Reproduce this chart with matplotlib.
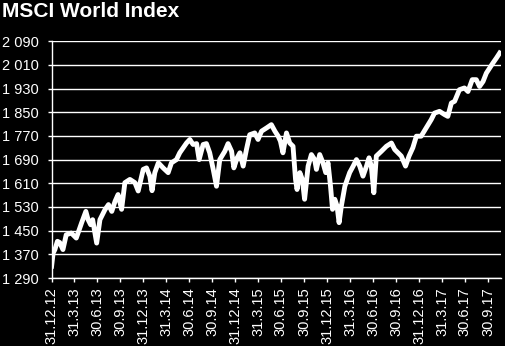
import matplotlib
matplotlib.use('Agg')
import matplotlib.pyplot as plt
import numpy as np
import pandas as pd

# index level, x as days after 31.12.2012
days = [0, 6, 13, 23, 32, 45, 58, 78, 98, 119, 136, 145, 155, 163, 179, 192, 212, 226, 239, 252,
        264, 278, 291, 311, 331, 344, 364, 377, 390, 399, 410, 424, 443, 463, 476, 496, 509, 523,
        536, 549, 562, 576, 586, 602, 615, 628, 642, 655, 668, 688, 701, 715, 724, 737, 748, 761,
        774, 787, 807, 820, 834, 854, 873, 887, 900, 909, 919, 933, 946, 959, 969, 975, 986, 996,
        1005, 1019, 1032, 1045, 1052, 1065, 1078, 1089, 1098, 1108, 1116, 1125, 1134, 1142, 1151,
        1165, 1184, 1198, 1211, 1224, 1237, 1251, 1261, 1270, 1280, 1290, 1310, 1330, 1350, 1363,
        1376, 1389, 1406, 1420, 1435, 1449, 1468, 1488, 1508, 1521, 1541, 1561, 1574, 1588, 1601,
        1620, 1640, 1654, 1671, 1687, 1700, 1714, 1727, 1740, 1753, 1767, 1780]
values = [1330, 1374, 1386, 1414, 1410, 1386, 1436, 1442, 1425, 1476, 1515, 1487, 1470, 1487, 1408,
          1487, 1521, 1538, 1515, 1549, 1572, 1522, 1612, 1623, 1612, 1584, 1657, 1662, 1634, 1585,
          1646, 1679, 1662, 1646, 1679, 1690, 1713, 1730, 1746, 1758, 1741, 1744, 1690, 1741, 1744,
          1713, 1657, 1600, 1690, 1718, 1744, 1718, 1662, 1696, 1713, 1668, 1724, 1774, 1780, 1758,
          1786, 1797, 1808, 1786, 1769, 1752, 1713, 1780, 1746, 1735, 1623, 1589, 1646, 1623, 1556,
          1668, 1707, 1690, 1657, 1707, 1679, 1646, 1679, 1600, 1522, 1556, 1533, 1477, 1533, 1600,
          1646, 1668, 1690, 1668, 1634, 1668, 1696, 1668, 1578, 1702, 1718, 1735, 1746, 1724, 1713,
          1702, 1668, 1702, 1730, 1769, 1769, 1797, 1825, 1847, 1853, 1842, 1836, 1881, 1887, 1926,
          1932, 1920, 1960, 1960, 1937, 1954, 1982, 1999, 2016, 2033, 2050]

y_ticks = list(range(1290, 2091, 80))
x_ticks = ['2012-12-31', '2013-03-31', '2013-06-30', '2013-09-30', '2013-12-31', '2014-03-31',
           '2014-06-30', '2014-09-30', '2014-12-31', '2015-03-31', '2015-06-30', '2015-09-30',
           '2015-12-31', '2016-03-31', '2016-06-30', '2016-09-30', '2016-12-31', '2017-03-31',
           '2017-06-30', '2017-09-30']

start = pd.Timestamp('2012-12-31')
dates = start + pd.to_timedelta(days, unit='D')
tick_dates = pd.to_datetime(x_ticks)

plt.rcParams['font.family'] = ['Liberation Sans', 'DejaVu Sans']

fig = plt.figure(figsize=(5.06, 3.46), dpi=100, facecolor='black')
ax = fig.add_axes([0.102, 0.1965, 0.8875, 0.6845], facecolor='black')

ax.plot(dates, values, color='white', lw=3.5, solid_joinstyle='round')

ax.set_ylim(1290, 2090)
ax.set_yticks(y_ticks)
ax.set_yticklabels([f'{v:,}'.replace(',', ' ') for v in y_ticks])
ax.set_xlim(start, start + pd.Timedelta(days=1784))
ax.set_xticks(tick_dates)
ax.set_xticklabels([f'{d.day}.{d.month}.{d.year % 100}' for d in tick_dates], rotation=90)

ax.grid(axis='y', color='white', lw=1)
ax.set_axisbelow(True)
for s in ['top', 'right']:
    ax.spines[s].set_visible(False)
for s in ['left', 'bottom']:
    ax.spines[s].set_color('white')
    ax.spines[s].set_linewidth(1)
ax.tick_params(colors='white', labelsize=10.5, length=3, width=1)
ax.tick_params(axis='y', pad=6)
ax.tick_params(axis='x', pad=4)

fig.text(0.004, 0.995, 'MSCI World Index', color='white', fontsize=15, fontweight='bold',
         ha='left', va='top')

fig.savefig('out.png', dpi=100, facecolor='black')
